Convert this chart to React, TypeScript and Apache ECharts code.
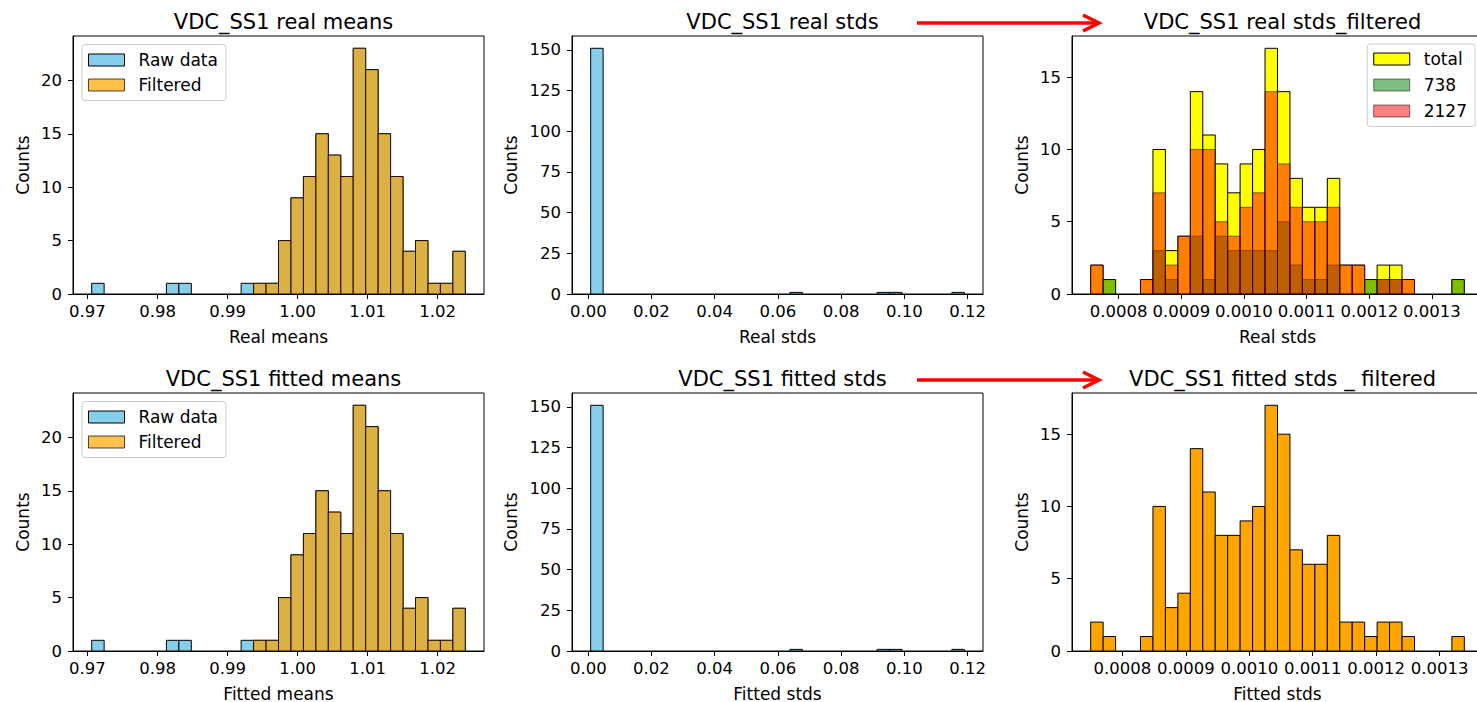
import React, { useEffect, useRef } from "react";
import * as echarts from "echarts";

const FONT = "DejaVu Sans";

// ---------- data ----------
// VDC_SS1 real means (30 bins)
const realMeansBinStart = 0.9706;
const realMeansBinWidth = 0.001778;
const realMeansRaw = [1, 0, 0, 0, 0, 0, 1, 1, 0, 0, 0, 0, 1, 1, 1, 5, 9, 11, 15, 13, 11, 23, 21, 15, 11, 4, 5, 1, 1, 4];
const realMeansFiltered = [0, 0, 0, 0, 0, 0, 0, 0, 0, 0, 0, 0, 0, 1, 1, 5, 9, 11, 15, 13, 11, 23, 21, 15, 11, 4, 5, 1, 1, 4];

// VDC_SS1 fitted means (30 bins)
const fittedMeansBinStart = 0.9706;
const fittedMeansBinWidth = 0.001778;
const fittedMeansRaw = [1, 0, 0, 0, 0, 0, 1, 1, 0, 0, 0, 0, 1, 1, 1, 5, 9, 11, 15, 13, 11, 23, 21, 15, 11, 4, 5, 1, 1, 4];
const fittedMeansFiltered = [0, 0, 0, 0, 0, 0, 0, 0, 0, 0, 0, 0, 0, 1, 1, 5, 9, 11, 15, 13, 11, 23, 21, 15, 11, 4, 5, 1, 1, 4];

// VDC_SS1 real stds (30 bins)
const realStdsBinStart = 0.00076;
const realStdsBinWidth = 0.003941;
const realStdsRaw = [151, 0, 0, 0, 0, 0, 0, 0, 0, 0, 0, 0, 0, 0, 0, 0, 1, 0, 0, 0, 0, 0, 0, 1, 1, 0, 0, 0, 0, 1];

// VDC_SS1 fitted stds (30 bins)
const fittedStdsBinStart = 0.00076;
const fittedStdsBinWidth = 0.003941;
const fittedStdsRaw = [151, 0, 0, 0, 0, 0, 0, 0, 0, 0, 0, 0, 0, 0, 0, 0, 1, 0, 0, 0, 0, 0, 0, 1, 1, 0, 0, 0, 0, 1];

// VDC_SS1 real stds_filtered (30 bins)
const realStdsFiltBinStart = 0.0007553;
const realStdsFiltBinWidth = 0.00001988;
const realStdsTotal = [2, 1, 0, 0, 1, 10, 3, 4, 14, 11, 9, 7, 9, 10, 17, 14, 8, 6, 6, 8, 2, 2, 1, 2, 2, 1, 0, 0, 0, 1];
const realStds738 = [0, 1, 0, 0, 0, 3, 1, 0, 4, 1, 4, 3, 3, 3, 3, 5, 2, 1, 1, 2, 0, 0, 1, 1, 1, 0, 0, 0, 0, 1];
const realStds2127 = [2, 0, 0, 0, 1, 7, 2, 4, 10, 10, 5, 4, 6, 7, 14, 9, 6, 5, 5, 6, 2, 2, 0, 1, 1, 1, 0, 0, 0, 0];

// VDC_SS1 fitted stds _ filtered (30 bins)
const fittedStdsFiltBinStart = 0.00075;
const fittedStdsFiltBinWidth = 0.00001963;
const fittedStdsFiltered = [2, 1, 0, 0, 1, 10, 3, 4, 14, 11, 8, 8, 9, 10, 17, 15, 7, 6, 6, 8, 2, 2, 1, 2, 2, 1, 0, 0, 0, 1];

// tick labels
const meansTicks = [0.97, 0.98, 0.99, 1.0, 1.01, 1.02];
const stdsTicks = [0.0, 0.02, 0.04, 0.06, 0.08, 0.1, 0.12];
const filtStdsTicks = [0.0008, 0.0009, 0.001, 0.0011, 0.0012, 0.0013];
const meansCountTicks = [0, 5, 10, 15, 20];
const stdsCountTicks = [0, 25, 50, 75, 100, 125, 150];
const filtCountTicks = [0, 5, 10, 15];

const titles = [
  "VDC_SS1 real means",
  "VDC_SS1 real stds",
  "VDC_SS1 real stds_filtered",
  "VDC_SS1 fitted means",
  "VDC_SS1 fitted stds",
  "VDC_SS1 fitted stds _ filtered",
];
const xNames = ["Real means", "Real stds", "Real stds", "Fitted means", "Fitted stds", "Fitted stds"];

// ---------- helpers ----------
const SKY = "#87CEEB";
const ORANGE_A = "rgba(255,165,0,0.7)";
const EDGE_A = "rgba(0,0,0,0.7)";

function bins(start: number, width: number, counts: number[]) {
  return counts.map((c, i) => [start + i * width, start + (i + 1) * width, c]);
}

function hist(name: string, idx: number, start: number, width: number, counts: number[], fill: string, stroke: string, z: number) {
  return {
    type: "custom",
    name,
    xAxisIndex: idx,
    yAxisIndex: idx,
    z,
    silent: true,
    clip: false,
    itemStyle: { color: fill, borderColor: stroke },
    encode: { x: [0, 1], y: 2 },
    data: bins(start, width, counts),
    renderItem: (params: any, api: any) => {
      const x0 = api.value(0);
      const x1 = api.value(1);
      const c = api.value(2);
      if (!c) return { type: "group", children: [] };
      const p0 = api.coord([x0, c]);
      const p1 = api.coord([x1, 0]);
      return {
        type: "rect",
        shape: { x: p0[0], y: p0[1], width: p1[0] - p0[0], height: p1[1] - p0[1] },
        style: { fill, stroke, lineWidth: 1 },
      };
    },
  };
}

function range(start: number, width: number, n: number) {
  const lo = start;
  const hi = start + n * width;
  const m = (hi - lo) * 0.05;
  return [lo - m, hi + m];
}

export default function App() {
  const ref = useRef<HTMLDivElement>(null);

  useEffect(() => {
    if (!ref.current) return;
    const chart = echarts.init(ref.current, undefined, { renderer: "svg" });

    const gridPos = [
      { left: 73, top: 36 },
      { left: 572, top: 36 },
      { left: 1072, top: 36 },
      { left: 73, top: 393 },
      { left: 572, top: 393 },
      { left: 1072, top: 393 },
    ];
    const grid = gridPos.map((g) => ({
      ...g,
      width: 411,
      height: 258,
      show: true,
      borderColor: "#000",
      borderWidth: 1,
      backgroundColor: "transparent",
      containLabel: false,
      outerBoundsMode: "none",
    }));

    const xRanges = [
      range(realMeansBinStart, realMeansBinWidth, realMeansRaw.length),
      range(realStdsBinStart, realStdsBinWidth, realStdsRaw.length),
      range(realStdsFiltBinStart, realStdsFiltBinWidth, realStdsTotal.length),
      range(fittedMeansBinStart, fittedMeansBinWidth, fittedMeansRaw.length),
      range(fittedStdsBinStart, fittedStdsBinWidth, fittedStdsRaw.length),
      range(fittedStdsFiltBinStart, fittedStdsFiltBinWidth, fittedStdsFiltered.length),
    ];
    const xTicks = [meansTicks, stdsTicks, filtStdsTicks, meansTicks, stdsTicks, filtStdsTicks];
    const xDigits = [2, 2, 4, 2, 2, 4];
    const yMax = [
      Math.max(...realMeansRaw) * 1.05,
      Math.max(...realStdsRaw) * 1.05,
      Math.max(...realStdsTotal) * 1.05,
      Math.max(...fittedMeansRaw) * 1.05,
      Math.max(...fittedStdsRaw) * 1.05,
      Math.max(...fittedStdsFiltered) * 1.05,
    ];
    const yTicks = [meansCountTicks, stdsCountTicks, filtCountTicks, meansCountTicks, stdsCountTicks, filtCountTicks];
    const yGap = [42, 53, 42, 42, 53, 42];

    const axisCommon = {
      axisLine: { show: true, onZero: false, lineStyle: { color: "#000", width: 1 } },
      splitLine: { show: false },
      nameLocation: "middle",
      nameTextStyle: { fontFamily: FONT, fontSize: 17, color: "#000" },
    };

    const xAxis = xRanges.map((r, i) => ({
      ...axisCommon,
      gridIndex: i,
      type: "value",
      min: r[0],
      max: r[1],
      name: xNames[i],
      nameGap: 34,
      axisTick: { show: true, length: 5, customValues: xTicks[i], lineStyle: { color: "#000" } },
      axisLabel: {
        customValues: xTicks[i],
        formatter: (v: number) => v.toFixed(xDigits[i]),
        fontFamily: FONT,
        fontSize: 16.5,
        color: "#000",
        margin: 9,
      },
    }));

    const yAxis = yMax.map((m, i) => ({
      ...axisCommon,
      gridIndex: i,
      type: "value",
      min: 0,
      max: m,
      name: "Counts",
      nameGap: yGap[i],
      axisTick: { show: true, length: 5, customValues: yTicks[i], lineStyle: { color: "#000" } },
      axisLabel: {
        customValues: yTicks[i],
        formatter: (v: number) => String(v),
        fontFamily: FONT,
        fontSize: 16.5,
        color: "#000",
        margin: 11,
      },
    }));

    const titleCenters = [278.5, 777.5, 1277.5, 278.5, 777.5, 1277.5];
    const title = titles.map((t, i) => ({
      text: t,
      left: titleCenters[i],
      top: i < 3 ? 6 : 363,
      textAlign: "center",
      textStyle: { fontFamily: FONT, fontSize: 21, fontWeight: "normal", color: "#000" },
    }));

    const legendCommon = {
      orient: "vertical",
      align: "left",
      itemWidth: 36,
      itemHeight: 12,
      selectedMode: false,
      backgroundColor: "rgba(255,255,255,0.8)",
      borderColor: "#cccccc",
      borderWidth: 1,
      borderRadius: 3,
      textStyle: { fontFamily: FONT, fontSize: 17, color: "#000", padding: [0, 0, 0, 9] },
    };
    const meansLegendData = [
      { name: "Raw data", icon: "rect", itemStyle: { color: SKY, borderColor: "#000", borderWidth: 1 } },
      { name: "Filtered", icon: "rect", itemStyle: { color: ORANGE_A, borderColor: EDGE_A, borderWidth: 1 } },
    ];
    const legend = [
      { ...legendCommon, left: 82, top: 44.5, itemGap: 8, padding: [7, 8, 7, 6], data: meansLegendData },
      { ...legendCommon, left: 82, top: 401.5, itemGap: 8, padding: [7, 8, 7, 6], data: meansLegendData },
      {
        ...legendCommon,
        right: 2,
        top: 44,
        itemGap: 9,
        padding: [6.5, 8, 7, 6],
        data: [
          { name: "total", icon: "rect", itemStyle: { color: "#FFFF00", borderColor: "#000", borderWidth: 1 } },
          { name: "738", icon: "rect", itemStyle: { color: "rgba(0,128,0,0.5)", borderColor: "rgba(0,0,0,0.5)", borderWidth: 1 } },
          { name: "2127", icon: "rect", itemStyle: { color: "rgba(255,0,0,0.5)", borderColor: "rgba(0,0,0,0.5)", borderWidth: 1 } },
        ],
      },
    ];

    const series = [
      hist("Raw data", 0, realMeansBinStart, realMeansBinWidth, realMeansRaw, SKY, "#000", 2),
      hist("Filtered", 0, realMeansBinStart, realMeansBinWidth, realMeansFiltered, ORANGE_A, EDGE_A, 3),
      hist("real stds raw", 1, realStdsBinStart, realStdsBinWidth, realStdsRaw, SKY, "#000", 2),
      hist("total", 2, realStdsFiltBinStart, realStdsFiltBinWidth, realStdsTotal, "#FFFF00", "#000", 2),
      hist("738", 2, realStdsFiltBinStart, realStdsFiltBinWidth, realStds738, "rgba(0,128,0,0.5)", "rgba(0,0,0,0.5)", 3),
      hist("2127", 2, realStdsFiltBinStart, realStdsFiltBinWidth, realStds2127, "rgba(255,0,0,0.5)", "rgba(0,0,0,0.5)", 4),
      hist("Raw data", 3, fittedMeansBinStart, fittedMeansBinWidth, fittedMeansRaw, SKY, "#000", 2),
      hist("Filtered", 3, fittedMeansBinStart, fittedMeansBinWidth, fittedMeansFiltered, ORANGE_A, EDGE_A, 3),
      hist("fitted stds raw", 4, fittedStdsBinStart, fittedStdsBinWidth, fittedStdsRaw, SKY, "#000", 2),
      hist("fitted stds filtered", 5, fittedStdsFiltBinStart, fittedStdsFiltBinWidth, fittedStdsFiltered, "#FFA500", "#000", 2),
    ];

    const arrow = (y: number) => [
      { type: "line", shape: { x1: 917, y1: y, x2: 1096, y2: y }, style: { stroke: "#ff0000", lineWidth: 3.5 }, z: 100 },
      {
        type: "polyline",
        shape: { points: [[1083, y - 8], [1099, y], [1083, y + 8]] },
        style: { stroke: "#ff0000", lineWidth: 3.5, fill: null },
        z: 100,
      },
    ];

    chart.setOption({
      animation: false,
      backgroundColor: "#fff",
      title,
      grid,
      xAxis,
      yAxis,
      legend,
      series,
      graphic: [...arrow(23), ...arrow(380)],
    });

    return () => chart.dispose();
  }, []);

  return <div ref={ref} style={{ position: "fixed", left: 0, top: 0, width: 1477, height: 702 }} />;
}
